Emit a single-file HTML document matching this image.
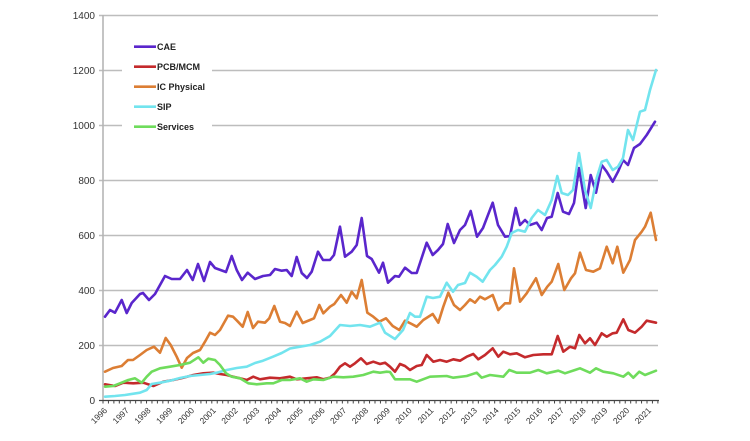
<!DOCTYPE html>
<html>
<head>
<meta charset="utf-8">
<style>
html,body{margin:0;padding:0;background:#fff;}
svg{display:block;}
text{font-family:"Liberation Sans",Arial,sans-serif;}
</style>
</head>
<body>
<svg width="750" height="441" viewBox="0 0 750 441" xmlns="http://www.w3.org/2000/svg">
<rect width="750" height="441" fill="#fff"/>
<!-- gridlines -->
<g stroke="#bdbdbd" stroke-width="1.5">
<line x1="99" y1="15.5" x2="658" y2="15.5"/>
<line x1="99" y1="70.5" x2="658" y2="70.5"/>
<line x1="99" y1="125.5" x2="658" y2="125.5"/>
<line x1="99" y1="180.5" x2="658" y2="180.5"/>
<line x1="99" y1="235.5" x2="658" y2="235.5"/>
<line x1="99" y1="290.5" x2="658" y2="290.5"/>
<line x1="99" y1="345.5" x2="658" y2="345.5"/>
</g>
<!-- y axis -->
<line x1="103" y1="15" x2="103" y2="401" stroke="#b5b5b5" stroke-width="1.6"/>
<!-- y labels -->
<g font-size="10" fill="#333" text-anchor="end">
<text x="95" y="19">1400</text>
<text x="95" y="74">1200</text>
<text x="95" y="129">1000</text>
<text x="95" y="184">800</text>
<text x="95" y="239">600</text>
<text x="95" y="294">400</text>
<text x="95" y="349">200</text>
<text x="95" y="404">0</text>
</g>
<!-- x axis -->
<line x1="99" y1="400.5" x2="659" y2="400.5" stroke="#444" stroke-width="1.2"/>
<g id="xt" stroke="#444" stroke-width="1"></g>
<g id="xl" font-size="8.5" fill="#333" text-anchor="end"></g>

<!-- series -->
<g fill="none" stroke-width="2.6" stroke-linejoin="round" stroke-linecap="round">
<polyline stroke="#5a26cc" points="105,316.7 110,310 115,312.7 121.7,300 126.7,313 131.7,303 140,294 143,293 149,300 155,294 165,276 171.7,279 180,279 187,270 192.7,280 198,264 204,281 210,262 215,268 226,272 231.7,256 236.7,270 242,280 247.7,272.7 255,279 263,276 270,275 275,269 281.7,270.7 286.7,270 291.7,276 296.7,257 301.7,273 307,278 311.7,271.7 318,251.7 323,260 330,260 334,255 340,226.7 345,256.7 351.7,251.7 356.7,245 361.7,218 367,256 371.7,259 379,272.7 383,262.7 388,282.7 395,276 399,276.7 405,267.7 411.7,273 416.7,273 426.7,242.7 432.7,255 438,250 443,244 447.7,224 454,243 460,230 465,225 470.7,211 477,236.7 483,228 492.7,202.7 498,225 505,236.7 510,236 515.7,208 520,225 525,220 530,225 536.7,222.7 541.7,230 547,218 551.7,216.7 557.7,193 563,211.7 569,214 574,203 579,168 585.7,208 590.7,175 596,192.7 601.7,165 606.7,171.7 612.7,181.7 618,171.7 623,160 628,165 634,148 640,144 646.7,135 655,121.7"/>
<polyline stroke="#c42a2c" points="105,384.3 115,386 123.3,382.7 133.3,383.3 143.3,382.7 153.3,386 163.3,381.7 173.3,380 183.3,377.7 193.3,375 203.3,373.3 213.3,372.7 220,374 226.7,375 233.3,376.7 240,378.3 246.7,380 253.3,376.7 260,379.3 270,377.7 280,378.3 290,376.7 296.7,379.3 306.7,378.3 316.7,377.3 323.3,379.3 330,377.7 335,373.3 340,366.7 345,363.3 350,366.7 355,363.3 361,358.3 366.7,364 373.3,361.7 380,364 385,362.7 390,366.7 395,371.7 400,364 405,366 410,370 416.7,366 421.7,365 426.7,355 433.3,361.7 440,360 446.7,361.7 453.3,359.3 460,360.7 466.7,356.7 473.3,354 478.3,359.3 485,355 492.7,348.3 498.3,356.7 503.3,351.7 510,354.3 516.7,353.3 525,357.3 533.3,355 543.3,354.3 551.7,354.3 557.7,336 563.3,351.7 570,346.7 575,348.3 579.3,335 585,343.3 590,338.3 595,345 601.7,333.3 606.7,336.7 612.7,333.3 616.7,332.7 623.3,319.3 628.3,330 635,332.7 641.7,326.7 646.7,320.7 656,322.7"/>
<polyline stroke="#dc7e34" points="105,371.7 113,368 121.7,366 128,360 133,360 140,355 146.7,350 154,346.7 160,352.7 165.7,338 170.7,345 176.7,356.7 181.7,367.7 187,358 193,353 200,350 205,341.7 210,332.7 215,335 220,330 228,315.7 233,316.7 237,320.7 242.7,326.7 247.7,312 253,328 258,321.7 265,322.7 269.3,318.3 274.3,306 280,321.7 285,323 290,326 296.7,311.7 302.7,323 310,320 314,318.3 319.3,305 323.3,313.3 330,306.7 334.3,304 341,295 346.7,302.7 351.7,291.7 356.7,298.3 361.7,280 367.3,312.7 373.3,316.7 379.3,321.7 386,318.3 392.7,326 399.3,330 405,320.7 411.7,324 416.7,326.7 423.3,320 432.7,314 438.3,322.7 443.3,306.7 448.3,292.7 454,305 460,310 465,305 470,299.3 475,302.7 480,296.7 485,299.3 492.7,295 498.3,310 505,303.3 510,303.3 514,268.3 520,301.7 526.7,293.3 536,278.3 541.7,295 547.3,286.7 551.7,281.7 558.3,264 564.3,290 571,278.3 575,273.3 580,252.7 586,270 593.3,271.7 600,268.3 606.7,246.7 612.7,263.3 617.3,246.7 623.3,272.7 630,260 635,240 641.7,231.7 645,226.7 650.7,212.7 656,240"/>
<polyline stroke="#72e4ee" points="105,396.7 115,396 125,395 140,392.7 146.7,390 151.7,384 160,382.7 170,380.7 180,378 190,376 200,375 210,374 216.7,372.7 226.7,370 236.7,368 246.7,366.7 255,363 263,360.7 273,356.7 281.7,353 290,348.5 300,346.7 310,345 320,341.7 330,336 340,325 350,326 360,325 370,326.7 380,322.7 385,332.7 395,339 403,330 410,313 415,316.7 420,316.7 426.7,296.7 433,298 440,296.7 446.7,282.7 453,291.7 458,285 465,283 470,272.7 476.7,276.7 482.7,281.7 490,270 495,265 501.7,256.7 506.7,246.7 511.7,233 518,230 525,231.7 531.7,218 538,210 545,215 551.7,200 557.3,176 561.7,193 568,195 573,190 579,153 585,190 590.7,208 596.7,178 601.7,161.7 606.7,160 612.7,170 618,166.7 623,158 628,130 633,140 640,111.7 645,110 650,90 656,70"/>
<polyline stroke="#6fdc5c" points="105,386.7 113.3,386 120,383.3 128.3,380 135,378.3 141.7,382.7 146.7,376.7 151.7,371.7 160,368.3 170,366.7 180,365 190,362.7 198.3,357.3 203.3,362.7 208.3,358.7 215,360 220,365 226,373.3 231.7,376.7 240,378.3 248.3,383.3 256.7,384.3 266.7,383.3 273.3,383.3 281.7,380 290,380 300,378.3 306.7,381.7 313.3,379.3 323.3,380 333.3,376.7 343.3,377.3 353.3,376.7 363.3,375 373.3,371.7 380,372.7 386.7,371.7 390,372 395,379.3 410,379.3 416.7,381.7 430,376.7 446.7,376 453.3,377.7 466.7,376 476.7,372.7 481.7,377.7 490,375 503.3,376.7 509.3,370 516.7,372.7 530,372.7 538.3,370 546.7,373.3 558.3,370.7 565,373.3 575,370 580,368.3 590,372.7 596,368.3 603.3,371.7 613.3,373.3 623.3,376.7 628.3,372.7 633.3,377.7 639.3,371.7 645,375 656,370.7"/>
</g>

<!-- legend -->
<rect x="122" y="30" width="90" height="110" fill="#fff"/>
<g stroke-width="2.6">
<line x1="134" y1="46.7" x2="156" y2="46.7" stroke="#5a26cc"/>
<line x1="134" y1="66.7" x2="156" y2="66.7" stroke="#c42a2c"/>
<line x1="134" y1="86.7" x2="156" y2="86.7" stroke="#dc7e34"/>
<line x1="134" y1="106.7" x2="156" y2="106.7" stroke="#72e4ee"/>
<line x1="134" y1="126.7" x2="156" y2="126.7" stroke="#6fdc5c"/>
</g>
<g font-size="9" font-weight="bold" fill="#222">
<text x="157" y="50">CAE</text>
<text x="157" y="70">PCB/MCM</text>
<text x="157" y="90">IC Physical</text>
<text x="157" y="110">SIP</text>
<text x="157" y="130">Services</text>
</g>

<!-- x ticks and labels (static) -->
<g stroke="#444" stroke-width="1">
<path d="M103,400.5v3M108.44,400.5v3M113.88,400.5v3M119.32,400.5v3M124.76,400.5v3M130.2,400.5v3M135.64,400.5v3M141.08,400.5v3M146.52,400.5v3M151.96,400.5v3M157.4,400.5v3M162.84,400.5v3M168.28,400.5v3M173.72,400.5v3M179.16,400.5v3M184.6,400.5v3M190.04,400.5v3M195.48,400.5v3M200.92,400.5v3M206.36,400.5v3M211.8,400.5v3M217.24,400.5v3M222.68,400.5v3M228.12,400.5v3M233.56,400.5v3M239,400.5v3M244.44,400.5v3M249.88,400.5v3M255.32,400.5v3M260.76,400.5v3M266.2,400.5v3M271.64,400.5v3M277.08,400.5v3M282.52,400.5v3M287.96,400.5v3M293.4,400.5v3M298.84,400.5v3M304.28,400.5v3M309.72,400.5v3M315.16,400.5v3M320.6,400.5v3M326.04,400.5v3M331.48,400.5v3M336.92,400.5v3M342.36,400.5v3M347.8,400.5v3M353.24,400.5v3M358.68,400.5v3M364.12,400.5v3M369.56,400.5v3M375,400.5v3M380.44,400.5v3M385.88,400.5v3M391.32,400.5v3M396.76,400.5v3M402.2,400.5v3M407.64,400.5v3M413.08,400.5v3M418.52,400.5v3M423.96,400.5v3M429.4,400.5v3M434.84,400.5v3M440.28,400.5v3M445.72,400.5v3M451.16,400.5v3M456.6,400.5v3M462.04,400.5v3M467.48,400.5v3M472.92,400.5v3M478.36,400.5v3M483.8,400.5v3M489.24,400.5v3M494.68,400.5v3M500.12,400.5v3M505.56,400.5v3M511,400.5v3M516.44,400.5v3M521.88,400.5v3M527.32,400.5v3M532.76,400.5v3M538.2,400.5v3M543.64,400.5v3M549.08,400.5v3M554.52,400.5v3M559.96,400.5v3M565.4,400.5v3M570.84,400.5v3M576.28,400.5v3M581.72,400.5v3M587.16,400.5v3M592.6,400.5v3M598.04,400.5v3M603.48,400.5v3M608.92,400.5v3M614.36,400.5v3M619.8,400.5v3M625.24,400.5v3M630.68,400.5v3M636.12,400.5v3M641.56,400.5v3M647,400.5v3M652.44,400.5v3M657.88,400.5v3"/>
</g>
<g font-size="8.5" fill="#333" text-anchor="end">
<text transform="translate(107.7,411) rotate(-45)">1996</text>
<text transform="translate(129.5,411) rotate(-45)">1997</text>
<text transform="translate(151.2,411) rotate(-45)">1998</text>
<text transform="translate(173,411) rotate(-45)">1999</text>
<text transform="translate(194.7,411) rotate(-45)">2000</text>
<text transform="translate(216.5,411) rotate(-45)">2001</text>
<text transform="translate(238.3,411) rotate(-45)">2002</text>
<text transform="translate(260,411) rotate(-45)">2003</text>
<text transform="translate(281.8,411) rotate(-45)">2004</text>
<text transform="translate(303.5,411) rotate(-45)">2005</text>
<text transform="translate(325.3,411) rotate(-45)">2006</text>
<text transform="translate(347,411) rotate(-45)">2007</text>
<text transform="translate(368.8,411) rotate(-45)">2008</text>
<text transform="translate(390.6,411) rotate(-45)">2009</text>
<text transform="translate(412.3,411) rotate(-45)">2010</text>
<text transform="translate(434.1,411) rotate(-45)">2011</text>
<text transform="translate(455.8,411) rotate(-45)">2012</text>
<text transform="translate(477.6,411) rotate(-45)">2013</text>
<text transform="translate(499.4,411) rotate(-45)">2014</text>
<text transform="translate(521.1,411) rotate(-45)">2015</text>
<text transform="translate(542.9,411) rotate(-45)">2016</text>
<text transform="translate(564.6,411) rotate(-45)">2017</text>
<text transform="translate(586.4,411) rotate(-45)">2018</text>
<text transform="translate(608.1,411) rotate(-45)">2019</text>
<text transform="translate(629.9,411) rotate(-45)">2020</text>
<text transform="translate(651.7,411) rotate(-45)">2021</text>
</g>
</svg>
</body>
</html>
